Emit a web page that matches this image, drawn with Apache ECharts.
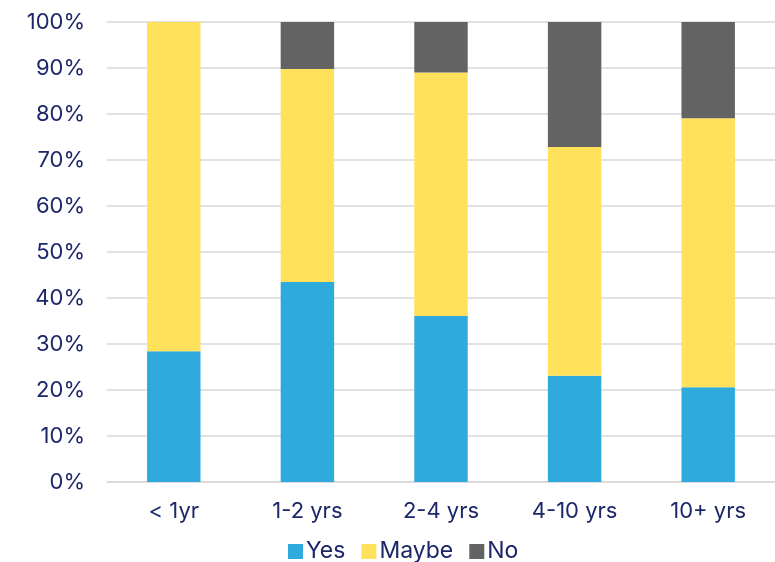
<!DOCTYPE html>
<html><head><meta charset="utf-8">
<script src="https://cdn.jsdelivr.net/npm/echarts@6/dist/echarts.min.js"></script>
<style>html,body{margin:0;padding:0;background:#fff}#c{width:775px;height:562px}</style>
</head><body><div id="c"></div>
<script>
const categories = ['< 1yr', '1-2 yrs', '2-4 yrs', '4-10 yrs', '10+ yrs'];
const yesValues = [28.4, 43.5, 36.1, 23.1, 20.6];
const maybeValues = [71.6, 46.3, 52.9, 49.7, 58.5];
const noValues = [0, 10.2, 11.0, 27.2, 20.9];
const seriesNames = ['Yes', 'Maybe', 'No'];
const colors = ['#2eaadc', '#ffe15b', '#636363'];
const textColor = '#1b2768';
const font = 'Inter';

const chart = echarts.init(document.getElementById('c'), null, {renderer: 'canvas'});
const mk = (name, data, color) => ({
  name, type: 'bar', stack: 'total', data, barWidth: '40%',
  itemStyle: {color}, emphasis: {disabled: true}
});
chart.setOption({
  animation: false,
  textStyle: {fontFamily: font},
  grid: {left: 107, right: 0, top: 22, bottom: 80, containLabel: false},
  legend: {
    top: 535, left: 283, itemWidth: 15, itemHeight: 15, itemGap: 16,
    icon: 'rect',
    textStyle: {color: textColor, fontSize: 23, fontFamily: font, padding: [0, 0, 0, -2]},
    data: seriesNames
  },
  xAxis: {
    type: 'category', data: categories,
    axisLine: {show: true, lineStyle: {color: '#d9d9d9', width: 1.5}},
    axisTick: {show: false},
    axisLabel: {color: textColor, fontSize: 22, margin: 18, fontFamily: font}
  },
  yAxis: {
    type: 'value', min: 0, max: 100, interval: 10,
    axisLine: {show: false}, axisTick: {show: false},
    splitLine: {lineStyle: {color: '#d9d9d9', width: 1.5}},
    axisLabel: {color: textColor, fontSize: 22, margin: 22, fontFamily: font, formatter: v => v + '%'}
  },
  series: [
    mk(seriesNames[0], yesValues, colors[0]),
    mk(seriesNames[1], maybeValues, colors[1]),
    mk(seriesNames[2], noValues, colors[2])
  ]
});
</script></body></html>
